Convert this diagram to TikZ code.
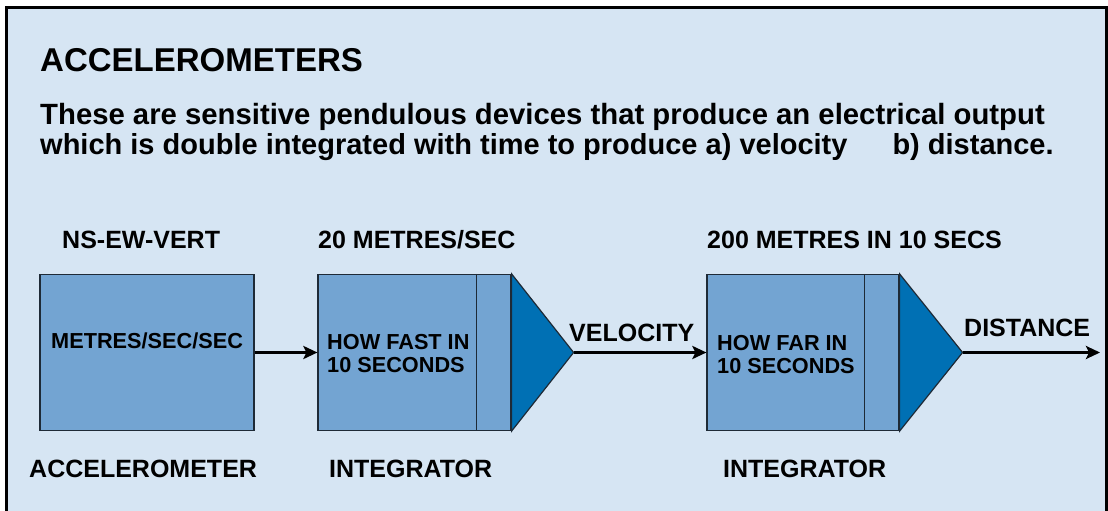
\documentclass[tikz,border=0pt]{standalone}
\usepackage{fontspec}
\setmainfont{Liberation Sans}
\usetikzlibrary{arrows.meta,calc,positioning}
\definecolor{Panel}{HTML}{D6E5F3}
\definecolor{BoxBlue}{HTML}{73A4D2}
\definecolor{AmpBlue}{HTML}{0070B4}
\definecolor{Edge}{HTML}{1E2A36}
\newcommand{\txtsize}[1]{\fontsize{#1}{#1}\selectfont\bfseries}

\begin{document}
\begin{tikzpicture}[x=1pt,y=-1pt,
  block/.style={draw=Edge,line width=1.2pt,fill=BoxBlue,inner sep=0pt,minimum height=156pt},
  amp/.style={draw=Edge,line width=1.2pt,fill=AmpBlue,line join=miter},
  flow/.style={-{Stealth[length=14pt,width=13pt,inset=3pt]},line width=2.8pt},
  label/.style={inner sep=0pt,anchor=base west,font=\txtsize{25}},
  inbox/.style={inner sep=0pt,anchor=base west,font=\txtsize{21.7}}
]
\useasboundingbox (0,0) rectangle (1108,511);
% Panel.
\fill[Panel] (6.5,8) rectangle (1106,520);
\draw[line width=3pt] (6.5,520) -- (6.5,8) -- (1106,8) -- (1106,520);

% Heading and text.
\node[label,font=\txtsize{33}] (title) at (40,71) {ACCELEROMETERS};
\node[label,font=\txtsize{29.3}] (line1) at (40,124)
  {These are sensitive pendulous devices that produce an electrical output};
\node[label,font=\txtsize{29}] (line2) at (40,154)
  {which is double integrated with time to produce a) velocity\hspace{45pt}b) distance.};

% Accelerometer.
\node[block,minimum width=214pt] (acc) at (147,352.5) {};
\node[inbox] (acctext) at (51,348) {METRES/SEC/SEC};
\node[label] (acctop) at (62,248) {NS-EW-VERT};
\node[label] (accname) at (29,477) {ACCELEROMETER};

% First integrator.
\node[block,minimum width=193pt] (int1) at (414.5,352.5) {};
\draw[Edge,line width=1.2pt] ($(int1.north east)+(-35,0)$) -- ($(int1.south east)+(-35,0)$);
\coordinate (tip1) at ($(int1.east)+(62,0)$);
\draw[amp] (int1.north east) -- (tip1) -- (int1.south east) -- cycle;
\node[inbox] (int1a) at (327,349) {HOW FAST IN};
\node[inbox] (int1b) at (327,372) {10 SECONDS};
\node[label] (int1top) at (318,248) {20 METRES/SEC};
\node[label] (int1name) at (329,477) {INTEGRATOR};

% Second integrator.
\node[block,minimum width=192pt] (int2) at (803,352.5) {};
\draw[Edge,line width=1.2pt] ($(int2.north east)+(-35,0)$) -- ($(int2.south east)+(-35,0)$);
\coordinate (tip2) at ($(int2.east)+(63,0)$);
\draw[amp] (int2.north east) -- (tip2) -- (int2.south east) -- cycle;
\node[inbox] (int2a) at (717,350) {HOW FAR IN};
\node[inbox] (int2b) at (717,373) {10 SECONDS};
\node[label] (int2top) at (707,248) {200 METRES IN 10 SECS};
\node[label] (int2name) at (723,477) {INTEGRATOR};

% Signal path.
\coordinate (out) at (1100,352.5);
\draw[flow] (acc.east) -- (int1.west);
\draw[flow] (tip1) -- (int2.west);
\draw[flow] (tip2) -- (out);
\node[label] (vel) at (569,341) {VELOCITY};
\node[label] (dist) at (964,336) {DISTANCE};
\end{tikzpicture}
\end{document}
